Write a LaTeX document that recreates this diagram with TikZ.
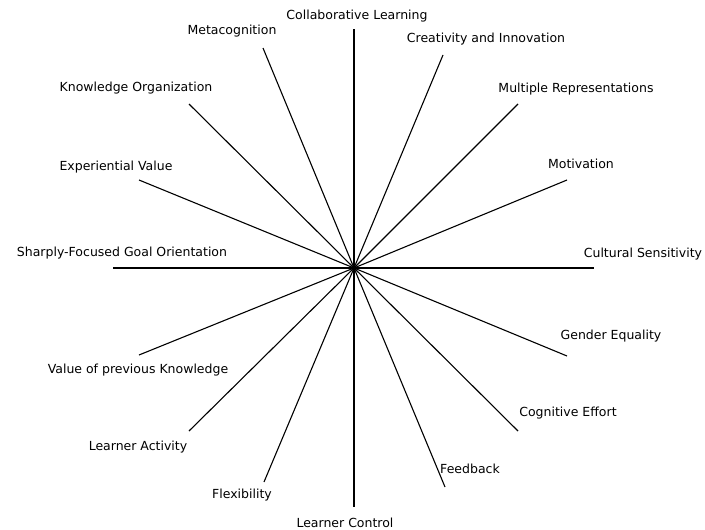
\documentclass[tikz,border=0pt]{standalone}
\usepackage{fontspec}
\setmainfont{DejaVu Sans}
\usepackage{tikz}
\usetikzlibrary{positioning}

\begin{document}
\begin{tikzpicture}[x=1pt, y=-1pt,
  spoke/.style={line width=1.1pt},
  lbl/.style={font=\fontsize{12.5}{14}\selectfont, inner sep=0pt},
]
\useasboundingbox (0,0) rectangle (705,530);

\coordinate (hub) at (354,268);

% spoke ends
\coordinate (eCult)  at (594,268);
\coordinate (eMotiv) at (567,180);
\coordinate (eMult)  at (518,104);
\coordinate (eCreat) at (443,55);
\coordinate (eCollab) at (354,29);
\coordinate (eMeta)  at (263,48);
\coordinate (eKnow)  at (189,104);
\coordinate (eExp)   at (139,180);
\coordinate (eGoal)  at (113,268);
\coordinate (ePrev)  at (139,355);
\coordinate (eAct)   at (189,431);
\coordinate (eFlex)  at (264,482);
\coordinate (eCtrl)  at (354,507);
\coordinate (eFeed)  at (445,487);
\coordinate (eEff)   at (518,431);
\coordinate (eGend)  at (567,356);

\node[lbl] (collab) at (357,16)  {Collaborative Learning};
\node[lbl] (meta)   at (232,31)  {Metacognition};
\node[lbl] (creat)  at (486,39)  {Creativity and Innovation};
\node[lbl] (know)   at (136,88)  {Knowledge Organization};
\node[lbl] (mult)   at (576,89)  {Multiple Representations};
\node[lbl] (exp)    at (116,167) {Experiential Value};
\node[lbl] (motiv)  at (581,164) {Motivation};
\node[lbl] (goal)   at (122,253) {Sharply-Focused Goal Orientation};
\node[lbl] (cult)   at (643,254) {Cultural Sensitivity};
\node[lbl] (prev)   at (138,370) {Value of previous Knowledge};
\node[lbl] (gend)   at (611,336) {Gender Equality};
\node[lbl] (act)    at (138,447) {Learner Activity};
\node[lbl] (eff)    at (568,413) {Cognitive Effort};
\node[lbl] (flex)   at (242,495) {Flexibility};
\node[lbl] (feed)   at (470,469) {Feedback};
\node[lbl] (ctrl)   at (345,523) {Learner Control};

\draw[spoke] (hub) -- (eCult);
\draw[spoke] (hub) -- (eMotiv);
\draw[spoke] (hub) -- (eMult);
\draw[spoke] (hub) -- (eCreat);
\draw[spoke] (hub) -- (eCollab);
\draw[spoke] (hub) -- (eMeta);
\draw[spoke] (hub) -- (eKnow);
\draw[spoke] (hub) -- (eExp);
\draw[spoke] (hub) -- (eGoal);
\draw[spoke] (hub) -- (ePrev);
\draw[spoke] (hub) -- (eAct);
\draw[spoke] (hub) -- (eFlex);
\draw[spoke] (hub) -- (eCtrl);
\draw[spoke] (hub) -- (eFeed);
\draw[spoke] (hub) -- (eEff);
\draw[spoke] (hub) -- (eGend);
\end{tikzpicture}
\end{document}
